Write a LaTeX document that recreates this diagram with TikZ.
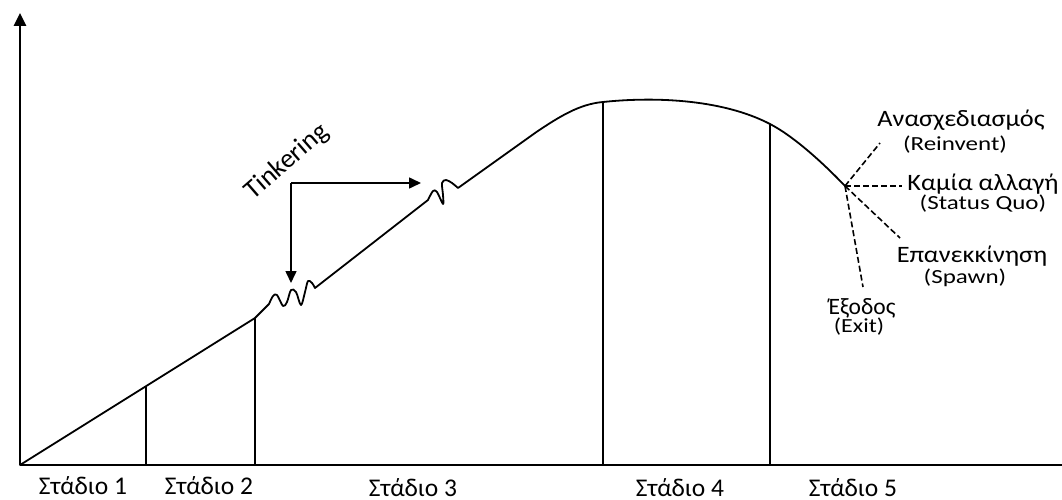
\documentclass[tikz,border=0pt]{standalone}
\usepackage{fontspec}
\setmainfont{Carlito}
\usetikzlibrary{arrows.meta}
\begin{document}
\begin{tikzpicture}[x=1pt,y=-1pt,
  axisline/.style={line width=2.6pt},
  curveline/.style={line width=1.8pt, line join=round, line cap=round},
  stageline/.style={line width=1.4pt},
  branch/.style={line width=1.6pt, dash pattern=on 6pt off 3pt},
  arr/.style={line width=1.6pt, -{Triangle[length=12pt,width=11pt]}},
  stagelab/.style={font=\fontsize{25.5}{25.5}\selectfont, inner sep=0pt, anchor=base},
  grlab/.style={font=\fontsize{23.5}{23.5}\selectfont, inner sep=0pt, anchor=base},
  enlab/.style={font=\fontsize{20}{20}\selectfont, inner sep=0pt, anchor=base}]
\useasboundingbox (0,0) rectangle (1062,500);
% axes
\coordinate (O) at (20,465);
\coordinate (ytop) at (20,13);
\coordinate (xend) at (1062,465);
\draw[axisline, -{Triangle[length=13pt,width=12pt]}] (O) -- (ytop);
\draw[axisline] (O) -- (xend);
% key points on curve
\coordinate (c1) at (146,386);
\coordinate (c2) at (255,318);
\coordinate (c3) at (603,102);
\coordinate (c4) at (770,124);
\coordinate (B) at (845,186);
% curve
\draw[curveline] (O) -- (c2) -- (269,304)
  -- plot[smooth, tension=0.55] coordinates {(269,304) (273,296) (277,295) (283,306) (287,302) (291,290) (296,292) (301,305) (305,292) (308,281) (312,283) (315,288)}
  -- (428,200)
  -- plot[smooth, tension=0.55] coordinates {(428,200) (433,191) (437,192) (443,204) (443,195) (442,183) (446,180) (452,183) (458,188)}
  -- (535,133) .. controls (560,116) and (580,104) .. (c3)
  .. controls (650,97) and (720,98) .. (c4)
  .. controls (795,137) and (825,165) .. (B);
% stage lines
\foreach \c in {c1,c2,c3,c4} {
  \draw[stageline] (\c) -- (\c |- O);
}
% stage labels
\node[stagelab] (st1) at (83,494) {Στάδιο 1};
\node[stagelab] (st2) at (209,494) {Στάδιο 2};
\node[stagelab] (st3) at (413,496) {Στάδιο 3};
\node[stagelab] (st4) at (680,496) {Στάδιο 4};
\node[stagelab] (st5) at (853,496) {Στάδιο 5};
% tinkering
\coordinate (tk) at (291,183);
\coordinate (tkr) at (421,183);
\coordinate (tkd) at (291,283);
\draw[arr] (tk) -- (tkr);
\draw[arr] (tk) -- (tkd);
\node[font=\fontsize{27}{27}\selectfont, inner sep=0pt, rotate=41] (tink) at (287,162) {Tinkering};
% branches
\node[grlab] (re) at (961,126) {\scalebox{1.12}[1]{Ανασχεδιασμός}};
\node[enlab] (reE) at (955,150) {\scalebox{1.25}[1]{(Reinvent)}};
\node[grlab] (sq) at (983,190) {\scalebox{1.12}[1]{Καμία αλλαγή}};
\node[enlab] (sqE) at (983,209) {\scalebox{1.25}[1]{(Status Quo)}};
\node[grlab] (sp) at (972,262) {\scalebox{1.12}[1]{Επανεκκίνηση}};
\node[enlab] (spE) at (965,283) {\scalebox{1.25}[1]{(Spawn)}};
\node[grlab] (ex) at (862,314) {Έξοδος};
\node[enlab] (exE) at (859,332) {\scalebox{1.2}[1]{(Exit)}};
\coordinate (bre) at (880,143);
\coordinate (bsq) at (902,186);
\coordinate (bsp) at (900,238);
\coordinate (bex) at (863,287);
\draw[branch] (B) -- (bre);
\draw[branch] (B) -- (bsq);
\draw[branch] (B) -- (bsp);
\draw[branch] (B) -- (bex);
\end{tikzpicture}
\end{document}
